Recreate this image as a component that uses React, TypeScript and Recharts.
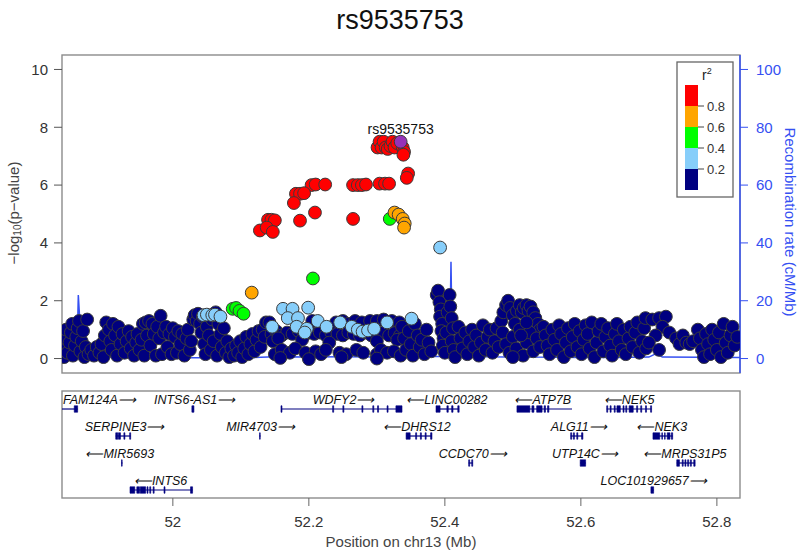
import React from "react";
import { ComposedChart, Scatter, Line, XAxis, YAxis, ReferenceLine, ReferenceArea } from "recharts";

if (typeof document !== "undefined") document.body.style.margin = "0";

const FONT = "'Liberation Sans', Arial, Helvetica, sans-serif";
const X_DOMAIN: [number, number] = [51.837, 52.834];
const X_TICKS = [52, 52.2, 52.4, 52.6, 52.8];
const P_TICKS = [0, 2, 4, 6, 8, 10];
const RATE_TICKS = [0, 20, 40, 60, 80, 100];
const BLUE = "#3550f2";

// SNPs by LD bin: [position (Mb), -log10(p)]
const navySnps: [number, number][] = [
  [51.84, 0.05], [51.84, 0.35], [51.842, 0.7], [51.843, 1.0], [51.845, 0.2], [51.848, 0.55], [51.85, 0.9], [51.852, 1.2],
  [51.853, 0.1], [51.856, 0.45], [51.858, 0.75], [51.86, 1.05], [51.862, 1.3], [51.864, 0.25], [51.866, 0.6], [51.868, 0.95],
  [51.87, 0.05], [51.872, 0.4], [51.874, 1.35], [51.876, 0.15],
  [51.88, 0.3], [51.884, 0.1], [51.888, 0.4], [51.892, 0.2], [51.895, 0.5], [51.898, 0.05], [51.9, 0.8],
  [51.902, 1.25], [51.906, 1.0], [51.908, 0.6], [51.91, 0.3], [51.912, 1.2], [51.915, 0.8], [51.918, 0.1], [51.92, 1.1],
  [51.923, 0.5], [51.926, 0.85], [51.929, 0.2],
  [51.932, 0.6], [51.935, 0.95], [51.938, 0.35], [51.94, 0.75], [51.943, 0.1], [51.946, 0.55], [51.948, 0.85], [51.951, 0.3],
  [51.954, 0.65], [51.956, 1.2], [51.958, 0.1],
  [51.96, 1.25], [51.962, 0.8], [51.965, 1.3], [51.967, 0.45], [51.97, 1.2], [51.972, 0.85], [51.975, 0.1], [51.977, 1.1],
  [51.98, 0.7], [51.982, 1.48], [51.984, 0.15], [51.987, 0.9],
  [51.99, 1.1], [51.992, 0.4], [51.995, 0.85], [51.998, 0.15], [52.0, 1.05], [52.003, 0.75], [52.006, 0.2], [52.008, 0.95],
  [52.011, 0.5], [52.014, 0.85], [52.017, 0.1], [52.02, 0.7], [52.022, 1.0], [52.025, 0.3], [52.027, 0.6], [52.03, 1.35],
  [52.032, 1.5], [52.035, 1.3], [52.037, 1.55], [52.04, 1.2], [52.042, 0.9], [52.044, 1.45], [52.046, 0.5], [52.048, 0.15],
  [52.05, 1.1], [52.053, 0.8], [52.056, 0.3], [52.058, 1.35], [52.06, 0.6], [52.063, 1.6], [52.065, 0.1], [52.067, 1.2],
  [52.07, 0.85], [52.072, 0.4], [52.075, 1.05], [52.078, 0.2], [52.08, 0.6], [52.083, 0.05], [52.086, 0.35],
  [52.09, 0.1], [52.093, 0.45], [52.096, 0.2], [52.099, 0.6], [52.102, 0.05], [52.105, 0.35], [52.108, 0.75], [52.111, 0.15],
  [52.114, 0.5], [52.117, 0.85], [52.12, 0.25], [52.123, 0.65], [52.126, 0.95], [52.129, 0.4], [52.132, 1.0], [52.135, 0.75],
  [52.137, 1.25],
  [52.142, 1.25], [52.205, 1.3], [52.24, 1.25], [52.25, 1.3], [52.258, 1.2], [52.268, 1.3], [52.278, 1.25], [52.29, 1.3],
  [52.3, 1.3], [52.31, 1.35], [52.322, 1.3], [52.333, 1.25],
  [52.145, 0.85], [52.152, 0.95], [52.16, 0.8], [52.168, 0.9], [52.176, 0.85], [52.185, 0.95], [52.193, 0.8], [52.2, 0.9],
  [52.208, 0.85], [52.216, 0.9], [52.225, 0.8], [52.233, 0.9], [52.242, 0.85], [52.25, 0.8], [52.258, 0.9], [52.266, 0.85],
  [52.275, 0.8], [52.284, 0.9], [52.292, 0.8], [52.3, 0.85], [52.31, 0.9], [52.318, 0.8], [52.326, 0.88], [52.334, 0.8],
  [52.147, 0.6], [52.155, 0.7], [52.19, 0.65], [52.23, 0.55], [52.3, 0.6], [52.33, 0.65],
  [52.15, 0.15], [52.16, 0.3], [52.172, 0.2], [52.18, 0.35], [52.195, 0.2], [52.21, 0.25], [52.218, 0.15], [52.225, 0.3],
  [52.245, 0.2], [52.255, 0.15], [52.27, 0.3], [52.28, 0.2], [52.3, 0.15], [52.306, 0.3], [52.315, 0.2], [52.325, 0.25],
  [52.335, 0.1], [52.158, 0.02], [52.2, -0.02], [52.248, 0.05], [52.3, 0.0],
  [52.337, 1.1], [52.34, 0.7], [52.343, 0.3], [52.347, 0.95], [52.35, 0.5], [52.353, 0.1], [52.356, 1.2], [52.36, 0.8],
  [52.363, 0.4], [52.366, 0.65], [52.37, 0.15], [52.373, 1.0], [52.376, 0.55], [52.38, 0.25],
  [52.388, 2.2], [52.39, 2.35], [52.392, 1.95], [52.394, 1.7], [52.393, 1.45], [52.396, 1.2], [52.395, 0.95], [52.398, 0.7],
  [52.397, 0.45], [52.4, 0.2], [52.402, 0.9], [52.404, 1.6], [52.407, 2.2], [52.408, 1.8], [52.41, 1.4], [52.412, 1.05],
  [52.41, 0.6], [52.413, 0.3], [52.415, 0.05],
  [52.42, 1.1], [52.423, 0.7], [52.426, 0.35], [52.43, 0.9], [52.433, 0.15], [52.436, 0.6], [52.44, 1.0], [52.443, 0.4],
  [52.446, 0.8], [52.45, 0.1], [52.453, 0.55], [52.456, 1.15], [52.46, 0.3], [52.463, 0.75], [52.466, 1.0], [52.47, 0.2],
  [52.473, 0.6], [52.476, 1.05], [52.479, 0.4],
  [52.483, 1.3], [52.486, 1.6], [52.49, 1.85], [52.493, 2.0], [52.496, 1.75], [52.5, 1.5], [52.503, 1.2], [52.506, 1.65],
  [52.51, 1.85], [52.513, 1.6], [52.516, 1.75], [52.52, 1.85], [52.523, 1.65], [52.526, 1.8], [52.53, 1.6], [52.533, 1.4],
  [52.537, 1.2], [52.54, 1.0], [52.485, 0.9], [52.49, 0.5], [52.495, 0.2], [52.5, 0.75], [52.505, 0.35], [52.51, 1.0],
  [52.515, 0.1], [52.52, 0.55], [52.525, 0.9], [52.53, 0.25], [52.535, 0.7], [52.54, 0.4], [52.5, 0.05], [52.52, 1.25],
  [52.512, 0.8],
  [52.545, 1.1], [52.548, 0.8], [52.551, 0.45], [52.554, 0.15], [52.558, 1.0], [52.561, 0.65], [52.565, 0.3], [52.568, 1.15],
  [52.571, 0.85], [52.575, 0.05], [52.578, 0.55], [52.581, 1.05], [52.585, 0.25], [52.588, 0.75], [52.591, 1.2], [52.595, 0.4],
  [52.598, 0.95],
  [52.601, 0.15], [52.604, 0.65], [52.607, 1.15], [52.61, 0.85], [52.613, 0.35], [52.616, 1.25], [52.62, 0.05], [52.623, 0.55],
  [52.626, 0.95], [52.63, 1.2], [52.633, 0.25], [52.636, 0.75], [52.64, 1.05], [52.643, 0.45], [52.646, 0.1], [52.65, 0.85],
  [52.653, 1.2], [52.656, 0.6], [52.66, 0.3], [52.663, 1.0], [52.666, 0.15], [52.67, 0.7], [52.673, 1.1], [52.676, 0.4],
  [52.68, 0.9], [52.683, 1.25], [52.686, 0.2], [52.69, 0.6], [52.693, 1.05], [52.696, 0.35],
  [52.695, 1.4], [52.705, 1.35], [52.715, 1.4], [52.725, 1.45], [52.72, 1.1], [52.71, 0.8], [52.7, 0.55], [52.73, 0.9],
  [52.715, 0.3],
  [52.74, 0.7], [52.745, 0.5], [52.75, 0.8], [52.755, 0.55], [52.76, 0.5], [52.765, 0.6],
  [52.772, 1.0], [52.775, 0.7], [52.778, 0.3], [52.781, 0.05], [52.784, 0.85], [52.787, 0.5], [52.79, 0.15], [52.793, 1.0],
  [52.796, 0.65], [52.8, 0.3], [52.803, 0.9], [52.806, 0.05], [52.81, 1.2], [52.813, 0.55], [52.816, 0.2], [52.82, 0.8],
  [52.823, 1.1], [52.826, 0.45], [52.83, 0.75],
];

const lightBlueSnps: [number, number][] = [
  [52.045, 1.5], [52.05, 1.52], [52.058, 1.5], [52.062, 1.52], [52.07, 1.45], [52.162, 1.72], [52.176, 1.72], [52.199, 1.76],
  [52.169, 1.4], [52.184, 1.4], [52.146, 1.1], [52.182, 1.1], [52.197, 1.03], [52.194, 0.9], [52.213, 1.3], [52.226, 1.1],
  [52.246, 1.25], [52.263, 1.1], [52.272, 1.0], [52.279, 0.93], [52.287, 0.97], [52.296, 1.03], [52.315, 1.25], [52.393, 3.84],
  [52.351, 1.38],
];

const greenSnps: [number, number][] = [
  [52.088, 1.72], [52.093, 1.75], [52.098, 1.65], [52.104, 1.55], [52.206, 2.77], [52.319, 4.83],
];

const orangeSnps: [number, number][] = [
  [52.116, 2.28], [52.326, 5.05], [52.332, 4.98], [52.338, 4.83], [52.341, 4.67], [52.34, 4.53],
];

const redSnps: [number, number][] = [
  [52.301, 7.3], [52.304, 7.5], [52.307, 7.3], [52.31, 7.5], [52.313, 7.3], [52.316, 7.25], [52.32, 7.35], [52.323, 7.5],
  [52.326, 7.3], [52.33, 7.45], [52.338, 7.3], [52.34, 7.15], [52.339, 7.05], [52.346, 6.4], [52.344, 6.25],
  [52.204, 6.0], [52.21, 6.02], [52.224, 6.02], [52.265, 6.0], [52.272, 6.0], [52.278, 6.0], [52.284, 6.02],
  [52.304, 6.05], [52.312, 6.05], [52.318, 6.05],
  [52.181, 5.7], [52.187, 5.7], [52.193, 5.72], [52.178, 5.38], [52.209, 5.05], [52.187, 4.77], [52.265, 4.83],
  [52.14, 4.8], [52.145, 4.8], [52.15, 4.78], [52.128, 4.43], [52.138, 4.53], [52.147, 4.38],
];

const leadSnp: [number, number][] = [[52.335, 7.5]];
const leadName = "rs9535753";

// recombination rate: [position (Mb), cM/Mb]
const recombRate: [number, number][] = [
  [51.837, 0.8], [51.855, 0.8], [51.859, 2], [51.861, 22], [51.865, 5.5], [51.868, 0.6], [51.9, 0.5], [51.95, 0.4],
  [52.0, 0.3], [52.06, 0.3], [52.1, 0.2], [52.15, 0.6], [52.2, 0.5], [52.25, 0.6], [52.3, 0.5], [52.343, 0.5],
  [52.345, 2], [52.38, 2], [52.382, 0.7], [52.407, 0.7], [52.409, 33.5], [52.411, 1.5], [52.43, 1.2], [52.46, 0.6],
  [52.5, 0.5], [52.529, 0.5], [52.53, 5.5], [52.532, 0.5], [52.6, 0.4], [52.65, 0.4], [52.7, 0.5], [52.71, 1.6],
  [52.72, 0.5], [52.834, 0.4],
];

const genes = [
  { name: "FAM124A", start: 51.837, end: 51.86, row: 1, strand: "+", labelAt: 51.892 },
  { name: "INTS6-AS1", start: 52.028, end: 52.031, row: 1, strand: "+", labelAt: 52.032 },
  { name: "WDFY2", start: 52.159, end: 52.337, row: 1, strand: "+", labelAt: 52.251 },
  { name: "LINC00282", start: 52.387, end: 52.421, row: 1, strand: "-", labelAt: 52.403 },
  { name: "ATP7B", start: 52.506, end: 52.587, row: 1, strand: "-", labelAt: 52.544 },
  { name: "NEK5", start: 52.638, end: 52.704, row: 1, strand: "-", labelAt: 52.671 },
  { name: "SERPINE3", start: 51.916, end: 51.938, row: 2, strand: "+", labelAt: 51.929 },
  { name: "MIR4703", start: 52.127, end: 52.129, row: 2, strand: "+", labelAt: 52.129 },
  { name: "DHRS12", start: 52.343, end: 52.381, row: 2, strand: "-", labelAt: 52.359 },
  { name: "ALG11", start: 52.585, end: 52.603, row: 2, strand: "+", labelAt: 52.597 },
  { name: "NEK3", start: 52.706, end: 52.735, row: 2, strand: "-", labelAt: 52.719 },
  { name: "MIR5693", start: 51.924, end: 51.926, row: 3, strand: "-", labelAt: 51.922 },
  { name: "CCDC70", start: 52.435, end: 52.441, row: 3, strand: "+", labelAt: 52.441 },
  { name: "UTP14C", start: 52.599, end: 52.607, row: 3, strand: "+", labelAt: 52.606 },
  { name: "MRPS31P5", start: 52.741, end: 52.768, row: 3, strand: "-", labelAt: 52.753 },
  { name: "INTS6", start: 51.937, end: 52.029, row: 4, strand: "-", labelAt: 51.982 },
  { name: "LOC101929657", start: 52.703, end: 52.707, row: 4, strand: "+", labelAt: 52.707 },
];

// exons: [start, end, row]
const exons: [number, number, number][] = [
  [51.855, 51.86, 1], [52.028, 52.031, 1],
  [52.159, 52.1605, 1], [52.235, 52.2365, 1], [52.25, 52.2515, 1], [52.278, 52.2795, 1], [52.294, 52.2955, 1],
  [52.301, 52.3025, 1], [52.315, 52.3165, 1], [52.328, 52.337, 1],
  [52.387, 52.393, 1], [52.403, 52.405, 1], [52.41, 52.412, 1], [52.419, 52.421, 1],
  [52.506, 52.525, 1], [52.528, 52.531, 1], [52.535, 52.543, 1], [52.546, 52.548, 1], [52.551, 52.553, 1],
  [52.638, 52.6395, 1], [52.643, 52.6445, 1], [52.649, 52.6505, 1], [52.653, 52.658, 1], [52.662, 52.6635, 1],
  [52.666, 52.6675, 1], [52.671, 52.677, 1], [52.682, 52.6835, 1], [52.688, 52.6895, 1], [52.695, 52.6965, 1],
  [52.7025, 52.704, 1],
  [51.916, 51.919, 2], [51.92, 51.923, 2], [51.928, 51.9295, 2], [51.9365, 51.938, 2],
  [52.1275, 52.1285, 2],
  [52.343, 52.349, 2], [52.357, 52.3585, 2], [52.364, 52.3655, 2], [52.371, 52.3725, 2], [52.379, 52.381, 2],
  [52.585, 52.5865, 2], [52.589, 52.5905, 2], [52.594, 52.5955, 2], [52.601, 52.603, 2],
  [52.706, 52.716, 2], [52.719, 52.72, 2], [52.723, 52.724, 2], [52.727, 52.731, 2], [52.733, 52.735, 2],
  [51.9245, 51.9255, 3], [52.435, 52.4365, 3], [52.4395, 52.441, 3], [52.599, 52.607, 3],
  [52.741, 52.745, 3], [52.749, 52.7505, 3], [52.753, 52.7545, 3], [52.757, 52.7585, 3], [52.761, 52.7625, 3],
  [52.766, 52.768, 3],
  [51.937, 51.944, 4], [51.947, 51.951, 4], [51.952, 51.96, 4], [51.962, 51.9635, 4], [51.966, 51.9675, 4],
  [51.971, 51.9725, 4], [51.987, 51.9885, 4], [52.026, 52.029, 4],
  [52.703, 52.707, 4],
];

const legendColors = ["#FF0000", "#FFA500", "#00FF00", "#87CEFA", "#000080"];
const legendTicks = ["0.8", "0.6", "0.4", "0.2"];

const toPts = (arr: [number, number][]) => arr.map(([x, y]) => ({ x, y }));
const rateData = recombRate.map(([x, rate]) => ({ x, rate }));
const geneLabels = genes.map((g) => ({
  x: g.labelAt,
  y: g.row - 0.32,
  text: g.strand === "+" ? g.name + "\u27F6" : "\u27F5" + g.name,
}));

const dot = (fill: string) => (props: any) =>
  <circle cx={props.cx} cy={props.cy} r={6.4} fill={fill} stroke="#3a3a3a" strokeWidth={1} />;

const leadDot = (props: any) => (
  <g>
    <circle cx={props.cx} cy={props.cy} r={6.4} fill="#9632B8" stroke="#3a3a3a" strokeWidth={1} />
    <text x={props.cx} y={props.cy - 8} textAnchor="middle" fontSize={14} fill="#111">{leadName}</text>
  </g>
);

const geneText = (props: any) => (
  <text x={props.cx} y={props.cy} textAnchor="middle" dominantBaseline="central" fontSize={12.5}
    style={{ fontStyle: "italic", fontFamily: "'Liberation Sans', Arial, sans-serif" }} fill="#111">
    {props.payload.text}
  </text>
);

export default function App() {
  return (
    <div style={{ position: "relative", width: 800, height: 556, fontFamily: FONT, background: "#fff" }}>
      <svg width={800} height={556} style={{ position: "absolute", left: 0, top: 0 }}>
        <rect x={62} y={55} width={678} height={318} fill="none" stroke="#8c8c8c" strokeWidth={1.4} />
        <rect x={62} y={391} width={678} height={107} fill="none" stroke="#8c8c8c" strokeWidth={1.4} />
      </svg>

      <div style={{ position: "absolute", left: 0, top: 0 }}>
        <ComposedChart width={800} height={380} margin={{ top: 55, right: 0, bottom: 7, left: 0 }}>
          <XAxis hide type="number" dataKey="x" domain={X_DOMAIN} allowDataOverflow />
          <YAxis yAxisId="left" type="number" dataKey="y" domain={[-0.5, 10.5]} ticks={P_TICKS} width={62}
            axisLine={false} tickLine={{ stroke: "#555" }} tickSize={8} tickMargin={6}
            tick={{ fill: "#333", fontSize: 15 }} allowDataOverflow />
          <YAxis yAxisId="right" orientation="right" type="number" domain={[-5, 105]} ticks={RATE_TICKS} width={60}
            axisLine={{ stroke: BLUE, strokeWidth: 1.5 }} tickLine={{ stroke: BLUE }} tickSize={8} tickMargin={8}
            tick={{ fill: BLUE, fontSize: 15 }} allowDataOverflow />
          <Line yAxisId="right" data={rateData} dataKey="rate" type="linear" stroke={BLUE} strokeWidth={1.5}
            dot={false} isAnimationActive={false} />
          <Scatter yAxisId="left" data={toPts(navySnps)} shape={dot("#000080")} isAnimationActive={false} />
          <Scatter yAxisId="left" data={toPts(lightBlueSnps)} shape={dot("#87CEFA")} isAnimationActive={false} />
          <Scatter yAxisId="left" data={toPts(greenSnps)} shape={dot("#00FF00")} isAnimationActive={false} />
          <Scatter yAxisId="left" data={toPts(orangeSnps)} shape={dot("#FFA500")} isAnimationActive={false} />
          <Scatter yAxisId="left" data={toPts(redSnps)} shape={dot("#FF0000")} isAnimationActive={false} />
          <Scatter yAxisId="left" data={toPts(leadSnp)} shape={leadDot} isAnimationActive={false} />
        </ComposedChart>
      </div>

      <div style={{ position: "absolute", left: 0, top: 391 }}>
        <ComposedChart width={800} height={165} margin={{ top: 0, right: 60, bottom: 0, left: 62 }}>
          <XAxis type="number" dataKey="x" domain={X_DOMAIN} ticks={X_TICKS} interval={0} height={58}
            tickFormatter={(v: number) => String(v)} axisLine={false} tickLine={{ stroke: "#666" }}
            tickSize={8} tickMargin={10} tick={{ fill: "#333", fontSize: 15 }} allowDataOverflow />
          <YAxis hide type="number" dataKey="y" domain={[0.333, 4.296]} reversed allowDataOverflow />
          {genes.map((g) => (
            <ReferenceLine key={g.name} segment={[{ x: g.start, y: g.row }, { x: g.end, y: g.row }]}
              stroke="#000080" strokeWidth={1.2} ifOverflow="visible" />
          ))}
          {exons.map(([s, e, r], i) => (
            <ReferenceArea key={i} x1={s} x2={e} y1={r - 0.12} y2={r + 0.12} fill="#000080" fillOpacity={1}
              stroke="#000080" strokeWidth={0.6} ifOverflow="visible" />
          ))}
          <Scatter data={geneLabels} shape={geneText} isAnimationActive={false} />
        </ComposedChart>
      </div>

      <svg width={800} height={556} style={{ position: "absolute", left: 0, top: 0 }}>
        <text x={400} y={29} textAnchor="middle" fontSize={27} fill="#111">{leadName}</text>
        <text transform="translate(13,213) rotate(-90)" textAnchor="middle" dominantBaseline="central"
          fontSize={15} fill="#444">
          −log<tspan fontSize={10} dy={4}>10</tspan><tspan dy={-4}>(p−value)</tspan>
        </text>
        <text transform="translate(790,222) rotate(90)" textAnchor="middle" dominantBaseline="central"
          fontSize={15} fill={BLUE}>Recombination rate (cM/Mb)</text>
        <text x={401} y={547} textAnchor="middle" fontSize={15} fill="#444">Position on chr13 (Mb)</text>
        <g transform="translate(677,62)">
          <rect x={0} y={0} width={56} height={135} fill="#fff" stroke="#666" strokeWidth={1.3} />
          <text x={25} y={18} fontSize={14} fill="#222">r<tspan fontSize={9} dy={-6}>2</tspan></text>
          {legendColors.map((c, i) => (
            <rect key={c} x={8} y={23 + i * 21} width={13} height={21} fill={c} />
          ))}
          {legendTicks.map((t, i) => (
            <g key={t}>
              <line x1={21} x2={27} y1={44 + i * 21} y2={44 + i * 21} stroke="#444" />
              <text x={30} y={44 + i * 21} dominantBaseline="central" fontSize={13} fill="#333">{t}</text>
            </g>
          ))}
        </g>
      </svg>
    </div>
  );
}
